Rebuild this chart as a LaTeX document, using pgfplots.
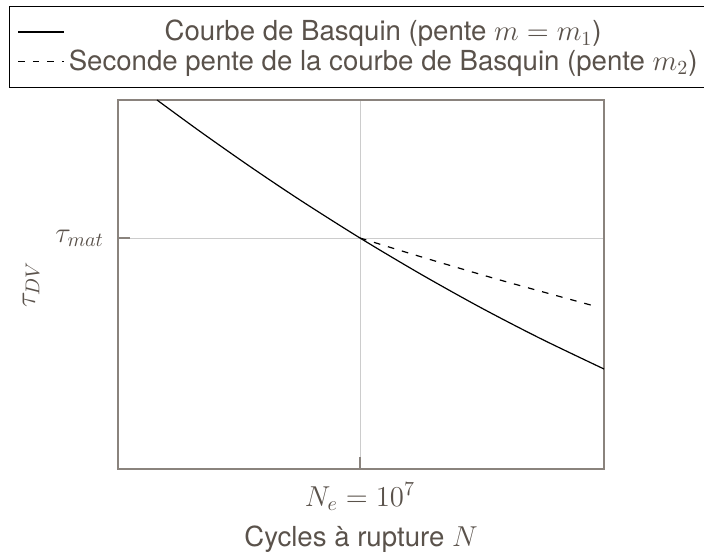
\documentclass[border=0pt]{standalone}
\usepackage{fontspec}
\setmainfont{TeX Gyre Heros}
\usepackage{pgfplots}
\pgfplotsset{compat=1.18}
\definecolor{txt}{HTML}{5A524B}
\definecolor{axc}{HTML}{8A837D}
\begin{document}
\begin{tikzpicture}
\begin{axis}[
  name=ax,
  at={(0,0)}, anchor=south west,
  scale only axis, width=243pt, height=184.5pt,
  xmin=0, xmax=486, ymin=0, ymax=369,
  xtick={242}, xticklabels={$N_e = 10^7$},
  ytick={231}, yticklabels={$\tau_{mat}$},
  grid=major, major grid style={color=black!20, line width=0.5pt},
  axis line style={axc, line width=0.6pt},
  tick style={axc, line width=0.6pt}, major tick length=6pt,
  xtick pos=bottom, ytick pos=left,
  ticklabel style={font=\Large, text=txt},
  xticklabel style={yshift=-3.5pt},
  yticklabel style={xshift=-3.5pt},
  xlabel={Cycles à rupture $N$}, ylabel={$\tau_{DV}$},
  xlabel style={at={(axis description cs:0.5,-0.1897)}, anchor=center, font=\fontsize{13.8}{16}\selectfont, text=txt},
  ylabel style={at={(axis description cs:-0.179,0.5)}, anchor=center, font=\Large, text=txt},
  legend cell align=center,
  legend image code/.code={\draw[#1] (0pt,0pt) -- (23pt,0pt);},
  legend style={at={(-0.2243,1.0325)}, anchor=south west, draw=black, line width=0.6pt,
    font=\fontsize{13.8}{16}\selectfont, text=txt, inner xsep=4pt, inner ysep=5pt, row sep=-1pt},
]
\addplot[black, line width=0.6pt, smooth] coordinates {
(39,369) (82,337.6) (132,302.5) (182,269) (242,231) (302,195.3) (362,161.8) (422,130.7) (486,100)
};
\addlegendentry{Courbe de Basquin (pente $m = m_1$)}
\addplot[black, line width=0.6pt, dash pattern=on 3.3pt off 4pt, smooth] coordinates {
(242,231) (302,212.5) (382,189) (480,162)
};
\addlegendentry{Seconde pente de la courbe de Basquin (pente $m_2$)}
\end{axis}
\pgfresetboundingbox
\path[use as bounding box] ([shift={(-59pt,-44pt)}]ax.south west) rectangle ([shift={(50pt,50pt)}]ax.north east);
\end{tikzpicture}
\end{document}
